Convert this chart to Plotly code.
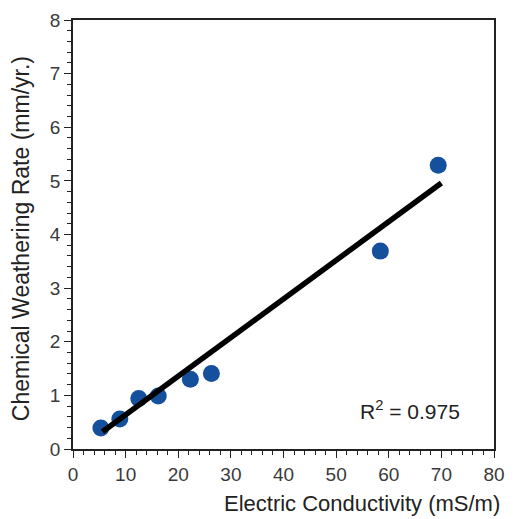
import plotly.graph_objects as go

conductivity = [5.3, 8.9, 12.5, 16.2, 22.3, 26.3, 58.4, 69.4]
weathering = [0.39, 0.56, 0.94, 0.99, 1.30, 1.41, 3.69, 5.29]
fit_x = [5.6, 70.0]
fit_y = [0.32, 4.96]
r2_text = "R<sup>2</sup> = 0.975"
x_title = "Electric Conductivity (mS/m)"
y_title = "Chemical Weathering Rate (mm/yr.)"

FONT = "Liberation Sans"

fig = go.Figure()
fig.add_trace(go.Scatter(x=conductivity, y=weathering, mode="markers",
                         marker=dict(color="#15509c", size=17, line=dict(width=0)),
                         showlegend=False))
fig.add_trace(go.Scatter(x=fit_x, y=fit_y, mode="lines",
                         line=dict(color="black", width=5.5), showlegend=False))

axis_common = dict(showgrid=False, zeroline=False, showline=True, linecolor="#222",
                   linewidth=1.5, mirror=True, ticks="outside", ticklen=7,
                   tickwidth=1.2, tickcolor="#222",
                   tickfont=dict(family=FONT, size=19, color="#3a3a3a"))
fig.update_xaxes(range=[0, 80], dtick=10, minor=dict(dtick=2, ticks="outside", ticklen=4, tickcolor="#222"),
                 **axis_common)
fig.update_yaxes(range=[0, 8], dtick=1, minor=dict(dtick=0.2, ticks="outside", ticklen=4, tickcolor="#222"),
                 **axis_common)

fig.add_annotation(text=x_title, xref="paper", yref="paper", x=1.02, y=-0.126,
                   xanchor="right", yanchor="middle", showarrow=False,
                   font=dict(family=FONT, size=22, color="#222"))
fig.add_annotation(text=y_title, xref="paper", yref="paper", x=-0.125, y=0.49,
                   xanchor="center", yanchor="middle", textangle=-90, showarrow=False,
                   font=dict(family=FONT, size=23, color="#222"))
fig.add_annotation(text=r2_text, xref="x", yref="y", x=64, y=0.73,
                   xanchor="center", yanchor="middle", showarrow=False,
                   font=dict(family=FONT, size=21, color="#222"))

fig.update_layout(width=514, height=519, autosize=False, margin=dict(l=73, r=9, t=20, b=70),
                  plot_bgcolor="white", paper_bgcolor="white")
fig.write_html("out.html", config={"displayModeBar": False, "responsive": False},
               post_script="document.body.style.margin='0';document.body.style.padding='0';"
                           "document.body.style.overflow='hidden';"
                           "document.documentElement.style.overflow='hidden';")
